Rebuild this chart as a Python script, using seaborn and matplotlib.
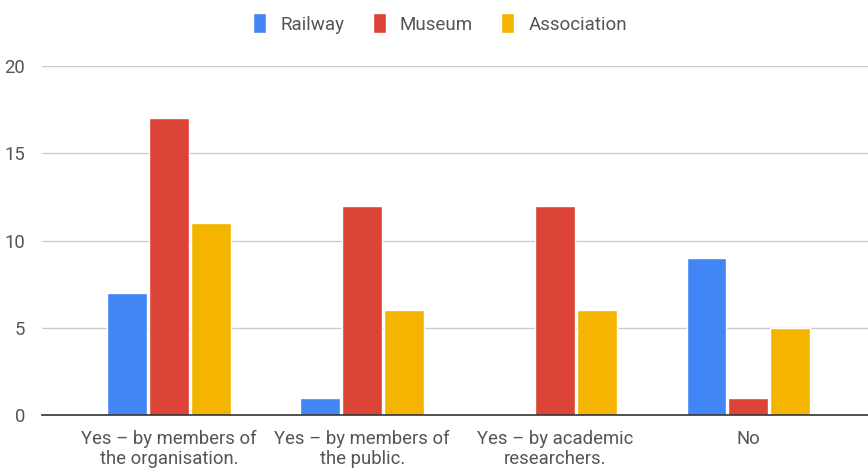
import pandas as pd
import matplotlib.pyplot as plt
import seaborn as sns

categories = ['Yes – by members of\nthe organisation.', 'Yes – by members of\nthe public.',
              'Yes – by academic\nresearchers.', 'No']
series = ['Railway', 'Museum', 'Association']
railway = [7, 1, 0, 9]
museum = [17, 12, 12, 1]
association = [11, 6, 6, 5]

rows = []
for name, vals in zip(series, [railway, museum, association]):
    for cat, v in zip(categories, vals):
        rows.append({'category': cat, 'series': name, 'value': v})
df = pd.DataFrame(rows)

sns.set_theme(style='white')
plt.rcParams['font.family'] = ['Roboto', 'DejaVu Sans']

fig = plt.figure(figsize=(8.68, 4.68), dpi=100)
ax = fig.add_axes([0.048, 0.1132, 0.952, 0.7458])

palette = ['#4285F4', '#DB4437', '#F4B400']
sns.barplot(data=df, x='category', y='value', hue='series', palette=palette,
            width=0.65, gap=0.05, saturation=1, ax=ax, legend=True)

ax.set_ylim(0, 20)
ax.set_xlim(-0.66, 3.62)
ax.set_yticks([0, 5, 10, 15, 20])
ax.yaxis.grid(True, color='#cccccc', linewidth=1)
ax.set_axisbelow(True)
for s in ['top', 'right', 'left']:
    ax.spines[s].set_visible(False)
ax.spines['bottom'].set_color('#333333')
ax.spines['bottom'].set_linewidth(1.2)
ax.tick_params(axis='both', length=0, labelsize=13.3, colors='#555555')
ax.tick_params(axis='y', pad=12)
ax.tick_params(axis='x', pad=11)
for lbl in ax.get_xticklabels():
    lbl.set_linespacing(1.15)
ax.set_xlabel('')
ax.set_ylabel('')

handles, labels = ax.get_legend_handles_labels()
ax.get_legend().remove()
fig.legend(handles, labels, loc='center', bbox_to_anchor=(0.507, 0.95), ncol=3,
           frameon=False, fontsize=13.5, handlelength=0.7, handleheight=1.25,
           columnspacing=1.5, handletextpad=0.75, labelcolor='#555555')

fig.savefig('out.png', dpi=100)
